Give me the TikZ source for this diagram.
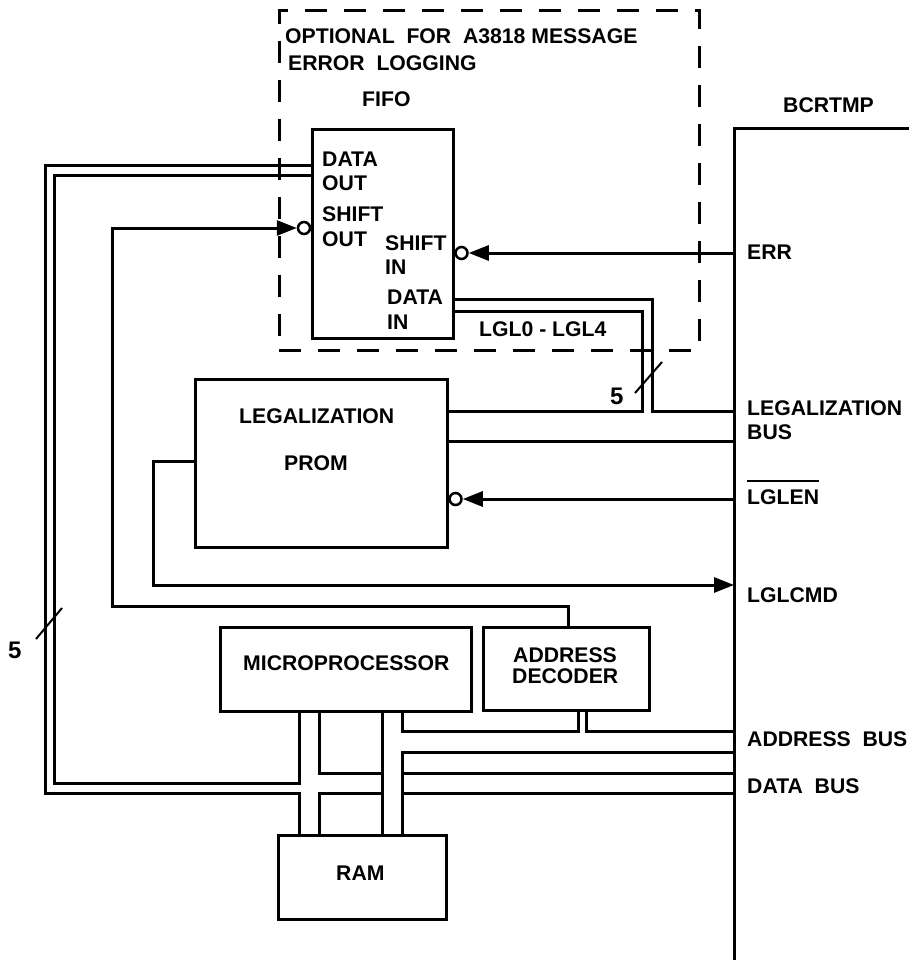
\documentclass[tikz,border=0pt]{standalone}
\usepackage{fontspec}
\setmainfont{Liberation Sans}
\usetikzlibrary{arrows.meta}
\begin{document}
\begin{tikzpicture}[x=1pt,y=-1pt,
  ln/.style={line width=3pt},
  box/.style={draw, line width=3pt, inner sep=0pt},
  optbox/.style={draw, line width=3pt, inner sep=0pt, dash pattern=on 22pt off 17pt},
  lbl/.style={anchor=base west, inner sep=0pt, font=\fontsize{21.2}{24}\selectfont\bfseries},
  big/.style={font=\fontsize{24}{26}\selectfont\bfseries},
  bub/.style={draw, circle, line width=2.5pt, minimum size=12pt, inner sep=0pt},
  tip/.style={-{Triangle[length=20pt,width=15pt]}},
  slashmark/.style={line width=2pt}]
\useasboundingbox (0,0) rectangle (909,960);

% boxes
\node[optbox, minimum width=420pt, minimum height=339pt] (opt) at (489,180.5) {};
\node[box, minimum width=141pt, minimum height=208pt] (fifo) at (382.5,234) {};
\node[box, minimum width=252pt, minimum height=168pt] (prom) at (321,463) {};
\node[box, minimum width=251pt, minimum height=84pt] (micro) at (345.5,669) {};
\node[box, minimum width=166pt, minimum height=83pt] (dec) at (566,668.5) {};
\node[box, minimum width=168pt, minimum height=84pt] (ram) at (362,877) {};

% inversion bubbles
\node[bub] (b1) at (304,228) {};
\node[bub] (b2) at (461.5,253) {};
\node[bub] (b3) at (455.5,499) {};

% BCRTMP line
\coordinate (bcrR) at (909,129);
\coordinate (bcr) at (734,129);
\coordinate (bcrB) at (734,960);
\draw[ln] (bcrR) -- (bcr) -- (bcrB);

% texts
\node[lbl] (t1) at (285,44) {OPTIONAL\ \ FOR\ \ A3818 MESSAGE};
\node[lbl] (t2) at (288,71) {ERROR\ \ LOGGING};
\node[lbl] (tfifo) at (362,107) {FIFO};
\node[lbl] (tbcr) at (783,113) {BCRTMP};
\node[lbl] (tdo1) at (322,167) {DATA};
\node[lbl] (tdo2) at (322,190) {OUT};
\node[lbl] (tso1) at (322,221) {SHIFT};
\node[lbl] (tso2) at (322,246) {OUT};
\node[lbl] (tsi1) at (385,250) {SHIFT};
\node[lbl] (tsi2) at (385,274) {IN};
\node[lbl] (tdi1) at (387,304) {DATA};
\node[lbl] (tdi2) at (387,329) {IN};
\node[lbl] (tlgl) at (479,336) {LGL0 - LGL4};
\node[lbl,big] (tfive1) at (610,404) {5};
\node[lbl,big] (tfive2) at (8,658) {5};
\node[lbl] (terr) at (747,259) {ERR};
\node[lbl] (tlb1) at (747,415) {LEGALIZATION};
\node[lbl] (tlb2) at (747,439) {BUS};
\node[lbl] (lglen) at (747,504) {LGLEN};
\node[lbl] (tcmd) at (747,602) {LGLCMD};
\node[lbl] (tab) at (747,746) {ADDRESS\ \ BUS};
\node[lbl] (tdb) at (747,793) {DATA\ \ BUS};
\node[lbl] (tp1) at (239,423) {LEGALIZATION};
\node[lbl] (tp2) at (284,470) {PROM};
\node[lbl] (tmp) at (243,670) {MICROPROCESSOR};
\node[lbl] (tad1) at (513,662) {ADDRESS};
\node[lbl] (tad2) at (512,683) {DECODER};
\node[lbl] (tram) at (336,880) {RAM};
\draw[line width=2pt] ([yshift=8pt]lglen.north west) -- ([yshift=8pt]lglen.north east);

% data out of FIFO to RAM / microprocessor
\draw[ln] (fifo.west |- 0,166) -- (45,166) -- (45,793) -- (299,793) -- (ram.north -| 299,0);
\draw[ln] (fifo.west |- 0,176) -- (54,176) -- (54,783) -- (299,783) -- (micro.south -| 299,0);
\draw[slashmark] (36,639) -- (62,608);

% data bus stubs
\draw[ln] (micro.south -| 319,0) -- (319,773) -- (382,773);
\draw[ln] (micro.south -| 382,0) -- (ram.north -| 382,0);
\draw[ln] (ram.north -| 319,0) -- (319,793) -- (382,793);
\draw[ln] (micro.south -| 402,0) -- (402,731) -- (578,731) -- (dec.south -| 578,0);
\draw[ln] (dec.south -| 586,0) -- (586,731) -- (bcr |- 0,731);
\draw[ln] (ram.north -| 402,0) -- (402,752) -- (bcr |- 0,752);
\draw[ln] (402,773) -- (bcr |- 0,773);
\draw[ln] (402,793) -- (bcr |- 0,793);

% legalization bus
\draw[ln] (prom.east |- 0,411) -- (642,411) -- (642,311) -- (fifo.east |- 0,311);
\draw[ln] (fifo.east |- 0,299) -- (652,299) -- (652,411) -- (bcr |- 0,411);
\draw[ln] (prom.east |- 0,441) -- (bcr |- 0,441);
\draw[slashmark] (635,393) -- (662,362);

% control signals
\draw[ln,tip] (bcr |- b2) -- (b2.east);
\draw[ln,tip] (bcr |- b3) -- (b3.east);
\draw[ln,tip] (dec.north -| 568,0) -- (568,606) -- (112,606) -- (112,228) -- (b1.west);
\draw[ln,tip] (prom.west |- 0,461) -- (153,461) -- (153,585) -- (bcr |- 0,585);
\end{tikzpicture}
\end{document}
